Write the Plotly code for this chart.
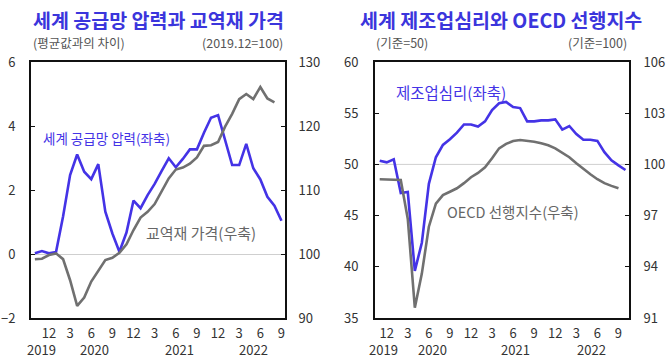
import plotly.graph_objects as go

# ---------------- data ----------------
left_months = ["2019-10", "2019-11", "2019-12"] + \
    [f"2020-{m:02d}" for m in range(1, 13)] + \
    [f"2021-{m:02d}" for m in range(1, 13)] + \
    [f"2022-{m:02d}" for m in range(1, 10)]

gscpi = [0.02, 0.09, 0.02, 0.06, 1.17, 2.47, 3.11, 2.57, 2.34, 2.81, 1.32, 0.64,
         0.07, 0.67, 1.67, 1.43, 1.84, 2.19, 2.60, 2.99, 2.71, 2.97, 3.27, 3.27,
         3.79, 4.26, 4.34, 3.56, 2.78, 2.78, 3.44, 2.68, 2.33, 1.79, 1.51, 1.04]

trade_price = [99.17, 99.27, 99.84, 100.1, 99.2, 95.9, 91.9, 93.2, 95.7, 97.4, 99.06, 99.4,
               100.2, 101.5, 103.75, 105.7, 106.6, 107.8, 109.7, 111.8, 113.2, 113.5, 114.1, 115.1,
               116.9, 117.0, 117.5, 119.9, 121.9, 124.2, 125.0, 124.2, 126.1, 124.3, 123.7, None]

right_months = ["2019-11", "2019-12"] + \
    [f"2020-{m:02d}" for m in range(1, 13)] + \
    [f"2021-{m:02d}" for m in range(1, 13)] + \
    [f"2022-{m:02d}" for m in range(1, 11)]

pmi = [50.36, 50.2, 50.5, 47.2, 47.3, 39.6, 42.35, 48.1, 50.7, 51.9, 52.45, 53.1,
       53.9, 53.9, 53.7, 54.2, 55.3, 55.97, 56.1, 55.6, 55.5, 54.2, 54.2, 54.3,
       54.3, 54.4, 53.4, 53.75, 52.97, 52.4, 52.4, 52.3, 51.2, 50.4, 49.9, 49.45]

oecd_cli = [99.13, 99.13, 99.13, 99.09, 96.8, 91.6, 93.6, 96.35, 97.7, 98.2, 98.4, 98.6,
            98.9, 99.25, 99.5, 99.83, 100.36, 100.94, 101.2, 101.37, 101.43, 101.4, 101.33, 101.24,
            101.12, 100.94, 100.69, 100.42, 100.07, 99.73, 99.42, 99.13, 98.9, 98.74, 98.6, None]

tick_months = ["2019-12", "2020-03", "2020-06", "2020-09", "2020-12", "2021-03",
               "2021-06", "2021-09", "2021-12", "2022-03", "2022-06", "2022-09"]
tick_text = ["12", "3", "6", "9", "12", "3", "6", "9", "12", "3", "6", "9"]
years = ["2019", "2020", "2021", "2022"]
left_year_pos = [1.0, 8.5, 20.5, 31.0]
right_year_pos = [0.47, 7.45, 19.4, 30.1]

# ---------------- style ----------------
W, H = 669, 361
BLUE = "#4433e6"
TITLE_BLUE = "#3b35dc"
GRAY = "#707070"
FONT = "Noto Sans CJK KR"
TICKFONT = dict(family=FONT, size=13, color="#333333")

def px_x(p):
    return p / W

def px_y(p):
    return (H - p) / H

fig = go.Figure()
fig.add_trace(go.Scatter(x=left_months, y=gscpi, mode="lines", line=dict(color=BLUE, width=2.6),
                         xaxis="x", yaxis="y", showlegend=False))
fig.add_trace(go.Scatter(x=left_months, y=trade_price, mode="lines", line=dict(color=GRAY, width=2.6),
                         xaxis="x", yaxis="y2", showlegend=False))
fig.add_trace(go.Scatter(x=right_months, y=oecd_cli, mode="lines", line=dict(color=GRAY, width=2.6),
                         xaxis="x2", yaxis="y4", showlegend=False))
fig.add_trace(go.Scatter(x=right_months, y=pmi, mode="lines", line=dict(color=BLUE, width=2.6),
                         xaxis="x2", yaxis="y3", showlegend=False))

ydom = [px_y(318), px_y(62)]
axis_common = dict(showline=True, linecolor="#111111", linewidth=2, showgrid=False,
                   tickfont=TICKFONT, automargin=False)

fig.update_layout(
    width=W, height=H, margin=dict(l=0, r=0, t=0, b=0, autoexpand=False),
    paper_bgcolor="white", plot_bgcolor="white",
    font=dict(family=FONT),
    xaxis=dict(domain=[px_x(31), px_x(285)], anchor="y", type="category",
               categoryorder="array", categoryarray=left_months,
               range=[-0.55, 35.5], tickvals=tick_months, ticktext=tick_text,
               ticks="", mirror=True, zeroline=False, ticklabelstandoff=2, **axis_common),
    yaxis=dict(domain=ydom, anchor="x", range=[-2, 6], dtick=2, ticks="inside", ticklen=4,
               tickcolor="#111111", mirror=True, zeroline=True, zerolinecolor="#cfcfcf",
               zerolinewidth=1, ticklabelstandoff=11, **axis_common),
    yaxis2=dict(overlaying="y", anchor="x", side="right", range=[90, 130], dtick=10,
                ticks="inside", ticklen=4, tickcolor="#111111", zeroline=False,
                ticklabelstandoff=9, **axis_common),
    xaxis2=dict(domain=[px_x(375), px_x(629)], anchor="y3", type="category",
                categoryorder="array", categoryarray=right_months,
                range=[-0.67, 35.5], tickvals=tick_months, ticktext=tick_text,
                ticks="", mirror=True, zeroline=False, ticklabelstandoff=2, **axis_common),
    yaxis3=dict(domain=ydom, anchor="x2", range=[35, 60], dtick=5, ticks="inside", ticklen=4,
                tickcolor="#111111", mirror=True, zeroline=False, ticklabelstandoff=12,
                **axis_common),
    yaxis4=dict(overlaying="y3", anchor="x2", side="right", range=[91, 106], tick0=91, dtick=3,
                ticks="inside", ticklen=4, tickcolor="#111111", zeroline=False,
                ticklabelstandoff=10, **axis_common),
)

# reference line at 50 on right chart
fig.add_shape(type="line", xref="x2 domain", yref="y3", x0=0, x1=1, y0=50, y1=50,
              line=dict(color="#cfcfcf", width=1), layer="below")

ann = []
# titles
ann.append(dict(text="<b>세계 공급망 압력과 교역재 가격</b>", x=px_x(158), y=px_y(19),
                font=dict(size=19.5, color=TITLE_BLUE, family=FONT)))
ann.append(dict(text="<b>세계 제조업심리와 OECD 선행지수</b>", x=px_x(501), y=px_y(19),
                font=dict(size=19.5, color=TITLE_BLUE, family=FONT)))
# subtitles
sub = dict(size=12.5, color="#555555", family=FONT)
ann.append(dict(text="(평균값과의 차이)", x=px_x(31), y=px_y(43), xanchor="left", font=sub))
ann.append(dict(text="(2019.12=100)", x=px_x(285), y=px_y(43), xanchor="right", font=sub))
ann.append(dict(text="(기준=50)", x=px_x(374), y=px_y(43), xanchor="left", font=sub))
ann.append(dict(text="(기준=100)", x=px_x(629), y=px_y(43), xanchor="right", font=sub))
# series labels
ann.append(dict(text="세계 공급망 압력(좌축)", x=px_x(41), y=px_y(138), xanchor="left",
                font=dict(size=13.5, color=BLUE, family=FONT)))
ann.append(dict(text="교역재 가격(우축)", x=px_x(144), y=px_y(232), xanchor="left",
                font=dict(size=15, color="#666666", family=FONT)))
ann.append(dict(text="제조업심리(좌축)", x=px_x(394), y=px_y(92), xanchor="left",
                font=dict(size=15.5, color=BLUE, family=FONT)))
ann.append(dict(text="OECD 선행지수(우축)", x=px_x(445), y=px_y(212), xanchor="left",
                font=dict(size=14.5, color="#666666", family=FONT)))

for a in ann:
    a.setdefault("xref", "paper")
    a.setdefault("yref", "paper")
    a.setdefault("xanchor", "center")
    a["yanchor"] = "middle"
    a["showarrow"] = False
    fig.add_annotation(**a)

# year labels under x axes
for yr, pos in zip(years, left_year_pos):
    fig.add_annotation(text=yr, x=pos, xref="x", y=px_y(349), yref="paper",
                       showarrow=False, xanchor="center", yanchor="middle", font=TICKFONT)
for yr, pos in zip(years, right_year_pos):
    fig.add_annotation(text=yr, x=pos, xref="x2", y=px_y(349), yref="paper",
                       showarrow=False, xanchor="center", yanchor="middle", font=TICKFONT)

# remove the default page margin so the 669x361 figure fills the window exactly
fig.write_html("out.html", config={"displayModeBar": False},
               post_script="document.body.style.margin='0';document.body.style.overflow='hidden';")
